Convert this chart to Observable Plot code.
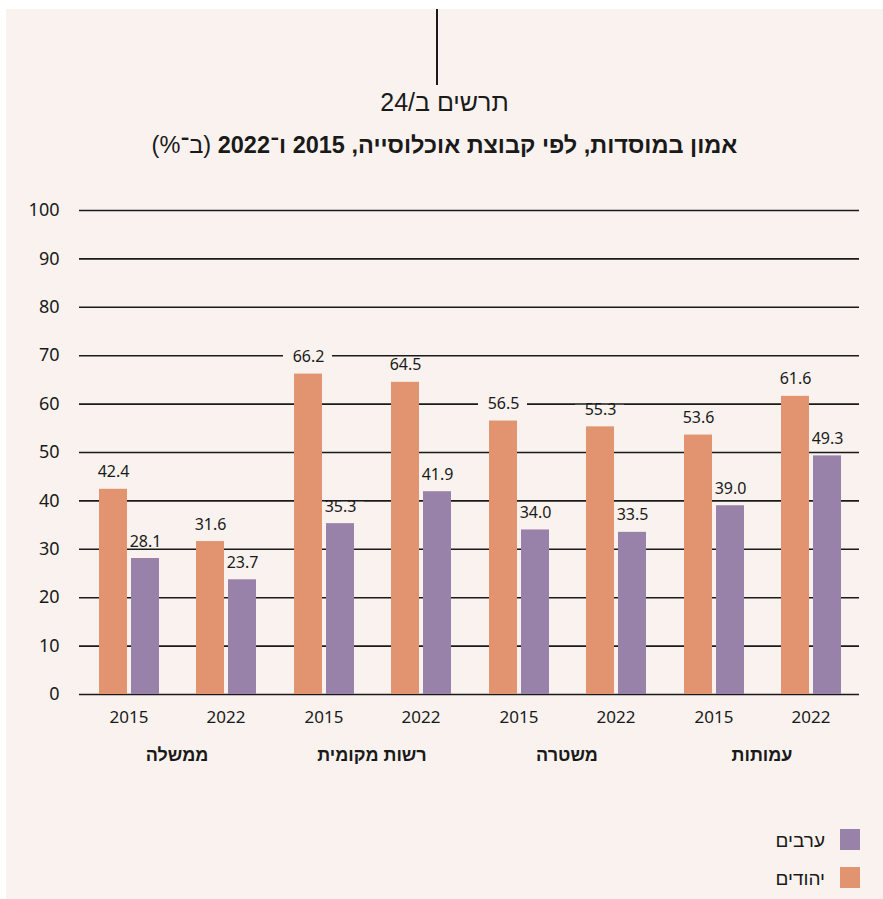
<!DOCTYPE html>
<html lang="he">
<head>
<meta charset="utf-8">
<script src="https://cdn.jsdelivr.net/npm/d3@7"></script>
<script src="https://cdn.jsdelivr.net/npm/@observablehq/plot@0.6"></script>
<style>
  html, body { margin: 0; padding: 0; background: #ffffff; }
  #panel { position: absolute; left: 6px; top: 9px; width: 877px; height: 890px; background: #f9f2ee; overflow: hidden; }
  #vline { position: absolute; left: 430px; top: 0; width: 2px; height: 76px; background: #1a1a1a; }
  #kicker { position: absolute; left: 0; width: 877px; top: 79px; text-align: center; direction: rtl;
            font-family: "Liberation Sans Narrow", "Liberation Sans", sans-serif; font-size: 25px; color: #1a1a1a; font-weight: 300; }
  #title { position: absolute; left: 0; width: 877px; top: 123px; text-align: center; direction: rtl;
           font-family: "Liberation Sans", Arial, sans-serif; font-size: 23.5px; color: #1a1a1a; }
  #title b { font-weight: 700; }
  #chart { position: absolute; left: 0; top: 171px; }
  #legend { position: absolute; right: 23px; top: 820px; direction: rtl; font-family: "Noto Sans", "Liberation Sans", sans-serif; font-size: 19px; color: #1a1a1a; }
  .li { display: flex; align-items: center; height: 21px; margin-bottom: 17px; }
  .sw { width: 20px; height: 21px; margin-left: 15px; }
</style>
</head>
<body>
<div id="panel">
  <div id="vline"></div>
  <div id="kicker">תרשים ב/24</div>
  <div id="title"><b>אמון במוסדות, לפי קבוצת אוכלוסייה, 2015 ו־2022</b> (ב־%)</div>
  <div id="chart"></div>
  <div id="legend"></div>
</div>
<script>
const categories = ["ממשלה", "רשות מקומית", "משטרה", "עמותות"];
const years = ["2015", "2022"];
const seriesNames = ["ערבים", "יהודים"];
const jews  = [42.4, 31.6, 66.2, 64.5, 56.5, 55.3, 53.6, 61.6];
const arabs = [28.1, 23.7, 35.3, 41.9, 34.0, 33.5, 39.0, 49.3];
const yTicks = [0, 10, 20, 30, 40, 50, 60, 70, 80, 90, 100];

const colors = { "יהודים": "#e29470", "ערבים": "#9882a9" };
const bg = "#f9f2ee";
const ink = "#1a1a1a";

const rowsJ = [], rowsA = [];
categories.forEach((c, i) => years.forEach((y, j) => {
  rowsJ.push({ category: c, year: y, value: jews[i * 2 + j] });
  rowsA.push({ category: c, year: y, value: arabs[i * 2 + j] });
}));
const yearRows = categories.flatMap(c => years.map(y => ({ category: c, year: y })));

const labelDy = -17;
const labelStyle = { fill: ink, fontSize: 16, lineAnchor: "middle", dy: labelDy };
const maskStyle = { stroke: bg, strokeWidth: 10, dy: labelDy };

const chart = Plot.plot({
  width: 877,
  height: 620,
  marginTop: 30,
  marginBottom: 106,
  marginLeft: 71,
  marginRight: 23,
  style: { background: "transparent", fontFamily: "'Noto Sans', 'Liberation Sans', sans-serif", fontSize: "16px", color: ink },
  fx: { domain: categories, padding: 0, axis: null },
  x: { domain: years, padding: 0, axis: null },
  y: { domain: [0, 100], axis: null },
  marks: [
    Plot.ruleY(yTicks, { stroke: ink, strokeWidth: 1.6 }),
    Plot.text(yTicks, { fx: () => categories[0], y: d => d, text: d => String(d), frameAnchor: "left", textAnchor: "end", dx: -20, fontSize: 18, fill: ink }),
    Plot.tickY(rowsJ, { fx: "category", x: "year", y: "value", insetLeft: 8, insetRight: 40, ...maskStyle }),
    Plot.tickY(rowsA, { fx: "category", x: "year", y: "value", insetLeft: 40, insetRight: 8, ...maskStyle }),
    Plot.text(rowsJ, { fx: "category", x: "year", y: "value", text: d => d.value.toFixed(1), dx: -15.5, ...labelStyle }),
    Plot.text(rowsA, { fx: "category", x: "year", y: "value", text: d => d.value.toFixed(1), dx: 16.5, ...labelStyle }),
    Plot.barY(rowsJ, { fx: "category", x: "year", y: "value", fill: colors["יהודים"], insetLeft: 19, insetRight: 50 }),
    Plot.barY(rowsA, { fx: "category", x: "year", y: "value", fill: colors["ערבים"], insetLeft: 51, insetRight: 18 }),
    Plot.text(yearRows, { fx: "category", x: "year", text: "year", frameAnchor: "bottom", dy: 28, fontSize: 17, fill: ink }),
    Plot.text(categories, { fx: d => d, text: d => d, frameAnchor: "bottom", dy: 66, fontSize: 18, fontWeight: "bold", fill: ink,
      fontFamily: "'Liberation Sans', Arial, sans-serif" })
  ]
});
document.getElementById("chart").appendChild(chart);

const legend = document.getElementById("legend");
seriesNames.forEach(name => {
  const row = document.createElement("div");
  row.className = "li";
  const sw = document.createElement("div");
  sw.className = "sw";
  sw.style.background = colors[name];
  const lab = document.createElement("span");
  lab.textContent = name;
  row.appendChild(sw);
  row.appendChild(lab);
  legend.appendChild(row);
});
</script>
</body>
</html>
